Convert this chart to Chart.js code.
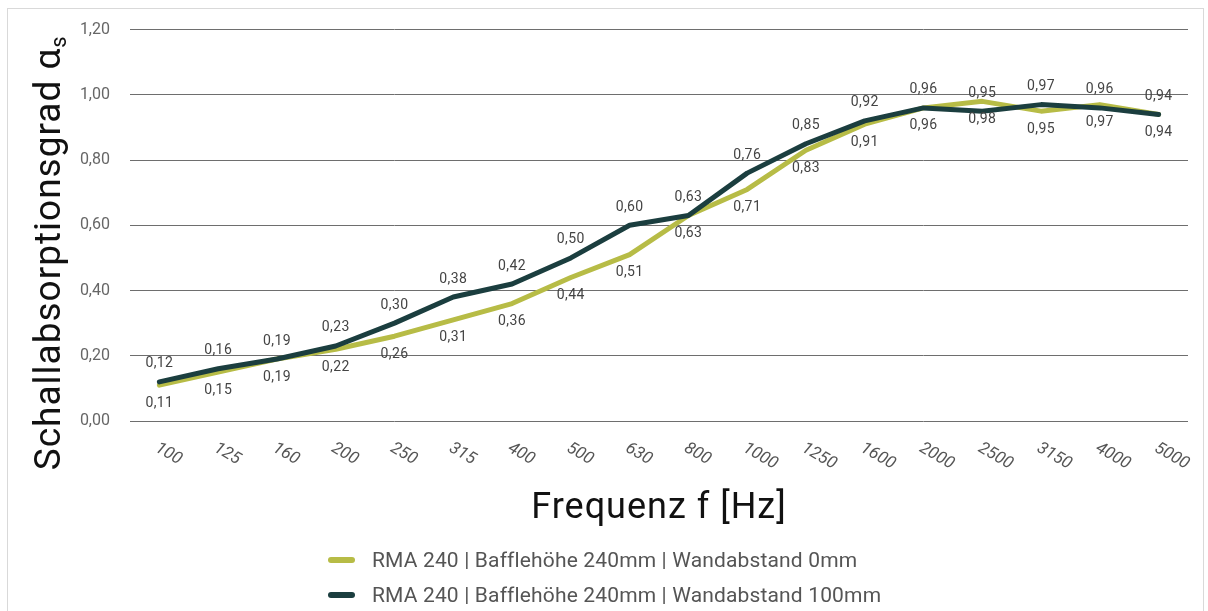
<!DOCTYPE html>
<html>
<head>
<meta charset="utf-8">
<script src="https://cdn.jsdelivr.net/npm/chart.js@4.4.1/dist/chart.umd.min.js"></script>
<style>
  body { margin: 0; background: #fff; }
  #wrap { position: relative; width: 1208px; height: 611px; overflow: hidden; font-family: Roboto, "Noto Sans", sans-serif; }
  #frame { position: absolute; left: 7px; top: 8px; width: 1197px; height: 640px; border: 1px solid #d9d9d9; box-sizing: border-box; }
  #chart { position: absolute; left: 0; top: 0; }
  #legend { position: absolute; left: 328px; top: 543px; }
  .item { display: flex; align-items: center; height: 34.5px; font-size: 21px; letter-spacing: 0.15px; color: #555; }
  .swatch { width: 27px; height: 6px; border-radius: 3px; margin-right: 17px; }
</style>
</head>
<body>
<div id="wrap">
  <div id="frame"></div>
  <canvas id="chart" width="1208" height="611"></canvas>
  <div id="legend"></div>
</div>
<script>
// Frequenzbänder (Hz)
const categories = ['100', '125', '160', '200', '250', '315', '400', '500', '630', '800',
  '1000', '1250', '1600', '2000', '2500', '3150', '4000', '5000'];

// Schallabsorptionsgrad
const wand0 = [0.11, 0.15, 0.19, 0.22, 0.26, 0.31, 0.36, 0.44, 0.51, 0.63,
  0.71, 0.83, 0.91, 0.96, 0.98, 0.95, 0.97, 0.94];
const wand100 = [0.12, 0.16, 0.19, 0.23, 0.30, 0.38, 0.42, 0.50, 0.60, 0.63,
  0.76, 0.85, 0.92, 0.96, 0.95, 0.97, 0.96, 0.94];

const yTickLabels = ['0,00', '0,20', '0,40', '0,60', '0,80', '1,00', '1,20'];

const seriesNames = [
  'RMA 240 | Bafflehöhe 240mm | Wandabstand 0mm',
  'RMA 240 | Bafflehöhe 240mm | Wandabstand 100mm'
];
const seriesColors = ['#b7bc46', '#1b3e3f'];

const xTitle = 'Frequenz f [Hz]';
const yTitle = 'Schallabsorptionsgrad α';
const yTitleSub = 's';

const FONT = 'Roboto, "Noto Sans", sans-serif';

function fmt(v) {
  return v.toFixed(2).replace('.', ',');
}

// Werte über/unter den Punkten
const valueLabels = {
  id: 'valueLabels',
  afterDatasetsDraw(chart) {
    const ctx = chart.ctx;
    ctx.save();
    ctx.font = '14px ' + FONT;
    ctx.letterSpacing = '0.4px';
    ctx.fillStyle = '#444';
    ctx.textAlign = 'center';
    ctx.textBaseline = 'middle';
    chart.data.datasets.forEach((ds, i) => {
      const meta = chart.getDatasetMeta(i);
      const dy = ds.labelSide === 'above' ? -18 : 18;
      meta.data.forEach((pt, j) => {
        ctx.fillText(fmt(ds.data[j]), pt.x, pt.y + dy);
      });
    });
    ctx.restore();
  }
};

// schräge x-Beschriftung (im Uhrzeigersinn gedreht)
const slantedTicks = {
  id: 'slantedTicks',
  afterDraw(chart) {
    const ctx = chart.ctx;
    const xs = chart.scales.x;
    ctx.save();
    ctx.font = 'italic 17px ' + FONT;
    ctx.fillStyle = '#555';
    ctx.textAlign = 'left';
    ctx.textBaseline = 'middle';
    categories.forEach((c, i) => {
      ctx.save();
      ctx.translate(xs.getPixelForTick(i) - 3, xs.top + 26);
      ctx.rotate(30 * Math.PI / 180);
      ctx.fillText(c, 0, 0);
      ctx.restore();
    });
    ctx.restore();
  }
};

// Achsentitel
const axisTitles = {
  id: 'axisTitles',
  afterDraw(chart) {
    const { ctx, chartArea } = chart;
    ctx.save();
    ctx.fillStyle = '#111';
    ctx.textBaseline = 'alphabetic';

    ctx.font = '36px ' + FONT;
    ctx.letterSpacing = '1px';
    ctx.textAlign = 'center';
    ctx.fillText(xTitle, (chartArea.left + chartArea.right) / 2, chartArea.bottom + 97);

    ctx.font = '37px ' + FONT;
    ctx.letterSpacing = '1px';
    const w1 = ctx.measureText(yTitle).width;
    ctx.font = '22px ' + FONT;
    ctx.letterSpacing = '0px';
    const w2 = ctx.measureText(yTitleSub).width;
    const start = -(w1 + w2) / 2;
    ctx.translate(60, (chartArea.top + chartArea.bottom) / 2 + 28);
    ctx.rotate(-Math.PI / 2);
    ctx.textAlign = 'left';
    ctx.font = '37px ' + FONT;
    ctx.letterSpacing = '1px';
    ctx.fillText(yTitle, start, 0);
    ctx.font = '22px ' + FONT;
    ctx.letterSpacing = '0px';
    ctx.fillText(yTitleSub, start + w1, 6);
    ctx.restore();
  }
};

const chart = new Chart(document.getElementById('chart'), {
  type: 'line',
  data: {
    labels: categories,
    datasets: [
      {
        label: seriesNames[0],
        data: wand0,
        borderColor: seriesColors[0],
        backgroundColor: seriesColors[0],
        borderWidth: 5,
        pointRadius: 0,
        borderCapStyle: 'round',
        borderJoinStyle: 'round',
        labelSide: 'below',
        order: 1
      },
      {
        label: seriesNames[1],
        data: wand100,
        borderColor: seriesColors[1],
        backgroundColor: seriesColors[1],
        borderWidth: 5,
        pointRadius: 0,
        borderCapStyle: 'round',
        borderJoinStyle: 'round',
        labelSide: 'above',
        order: 0
      }
    ]
  },
  options: {
    responsive: false,
    animation: false,
    layout: {
      padding: { left: 0, right: 20, top: 26, bottom: 86 }
    },
    plugins: {
      legend: { display: false },
      tooltip: { enabled: false }
    },
    scales: {
      x: {
        offset: true,
        grid: { display: false },
        border: { display: false },
        ticks: { display: false },
        afterFit(scale) { scale.height = 104; }
      },
      y: {
        min: 0,
        max: 1.2,
        grid: { color: '#6e6e6e', lineWidth: 1, drawTicks: false },
        border: { display: false },
        ticks: {
          stepSize: 0.2,
          padding: 20,
          color: '#666',
          font: { family: FONT, size: 16 },
          callback: (v, i) => yTickLabels[i]
        },
        afterFit(scale) { scale.width = 130; }
      }
    }
  },
  plugins: [valueLabels, slantedTicks, axisTitles]
});

// Legende als HTML unter dem Diagramm
const legend = document.getElementById('legend');
seriesNames.forEach((name, i) => {
  const item = document.createElement('div');
  item.className = 'item';
  const sw = document.createElement('span');
  sw.className = 'swatch';
  sw.style.background = seriesColors[i];
  const txt = document.createElement('span');
  txt.textContent = name;
  item.appendChild(sw);
  item.appendChild(txt);
  legend.appendChild(item);
});
</script>
</body>
</html>
